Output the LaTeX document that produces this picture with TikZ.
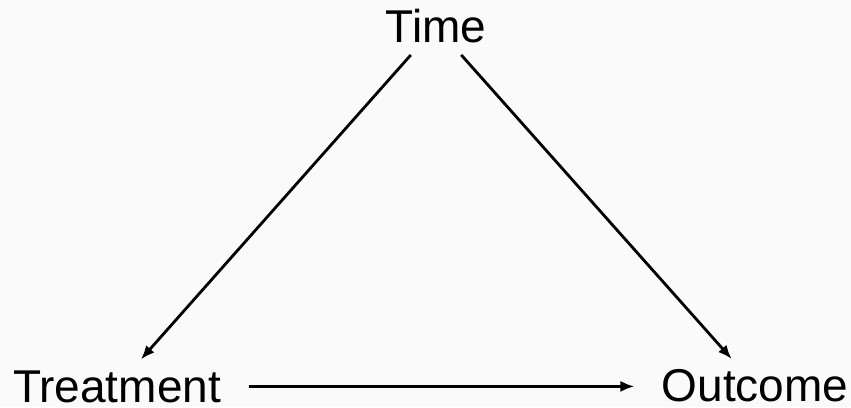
\documentclass[tikz,border=0pt]{standalone}
\usepackage{fontspec}
\setmainfont{Liberation Sans}
\usetikzlibrary{arrows.meta}
\definecolor{bg}{RGB}{250,250,250}
\begin{document}
\begin{tikzpicture}[x=1pt,y=1pt,
  lbl/.style={inner sep=0pt,anchor=base,font=\fontsize{46}{50}\selectfont},
  arr/.style={line width=2.8pt,-{Latex[length=14pt,width=11pt]}}]
\fill[bg] (0,0) rectangle (851,407);
\useasboundingbox (0,0) rectangle (851,407);
\node[lbl] (Time) at (436,364) {Time};
\node[lbl] (Treatment) at (117,5) {Treatment};
\node[lbl] (Outcome) at (755,6) {Outcome};
\coordinate (tr) at (Treatment.east);
\coordinate (oc) at (Outcome.west |- tr);
\draw[arr,shorten <=38pt,shorten >=36pt] (Time.center) -- (Treatment.center);
\draw[arr,shorten <=38pt,shorten >=35pt] (Time.center) -- (Outcome.center);
\draw[arr,shorten <=28pt,shorten >=27pt] (tr) -- (oc);
\end{tikzpicture}
\end{document}
